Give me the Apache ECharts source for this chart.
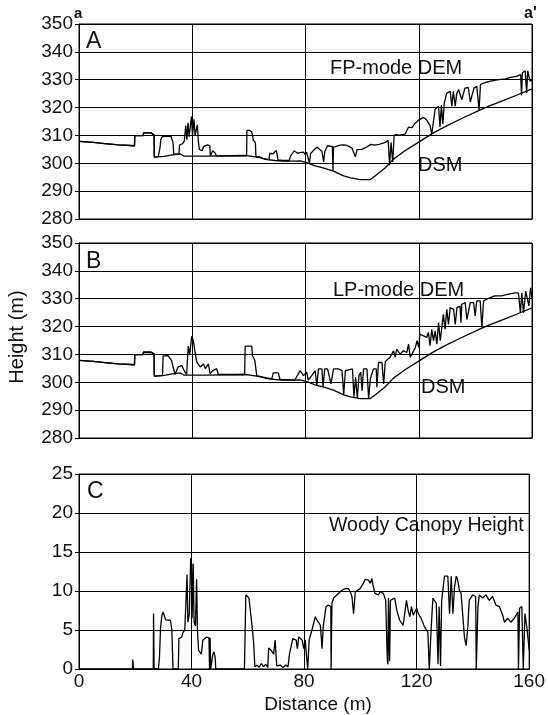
<!DOCTYPE html>
<html><head><meta charset="utf-8">
<script src="https://cdn.jsdelivr.net/npm/echarts@6/dist/echarts.min.js"></script>
<style>html,body{margin:0;padding:0;background:#fff}#c{width:548px;height:715px}</style>
</head><body><div id="c"></div><script>
const distanceTicks = [0, 40, 80, 120, 160];
const heightTicks = [280, 290, 300, 310, 320, 330, 340, 350];
const canopyTicks = [0, 5, 10, 15, 20, 25];

// lower (ground) line, shared by panels A and B: [distance m, height m]
const ground = [[0,307.9],[5,307.5],[10,307.0],[14,306.6],[19.6,306.3],[19.7,309.9],[22.7,309.9],[22.8,310.9],[25.4,310.9],[25.9,310.3],[26.5,310.2],[26.6,302.2],[30,302.5],[33,303.0],[35.7,303.4],[37,302.6],[45,302.6],[58.8,302.8],[61,302.5],[63.9,302.0],[66,301.4],[69.2,301.0],[72,300.8],[76.3,300.8],[78,300.9],[80.5,300.2],[83.4,299.1],[86.5,298.3],[89.9,297.2],[93.5,295.5],[96,294.8],[99.3,294.1],[102.8,294.1],[105,295.8],[108,298.2],[111.1,301.5],[115,304.4],[120,307.6],[125.2,310.9],[130,313.5],[135,316.0],[141.7,319.2],[145,320.6],[150,322.6],[155,324.6],[160,326.7]];

// upper line, panel A (FP mode)
const fpSurface = [[0,307.9],[5,307.5],[10,307.0],[14,306.6],[19.6,306.3],[19.7,309.9],[22.7,309.9],[22.8,310.9],[25.4,310.9],[25.9,310.3],[26.5,310.2],[26.6,302.2],[28.0,302.4],[28.6,305.5],[28.9,308.5],[29.3,309.5],[31,309.8],[32.5,309.6],[33.2,307.5],[33.5,303.2],[35.3,303.4],[35.5,306.5],[36.5,307],[37.2,308],[37.7,313.5],[38.1,308.5],[38.5,314.5],[38.9,309.5],[39.7,316.8],[40.1,310],[40.6,315.8],[41,310],[41.8,313.8],[42.1,308.5],[42.5,305],[43.5,304.5],[44,306],[45.3,306.6],[46.2,306.3],[46.4,302.6],[47.2,304.5],[47.6,304.2],[48,303.8],[48.6,302.6],[59.2,302.8],[59.3,311.8],[60.2,311.8],[61,311.3],[61.6,308.2],[62.3,307.4],[62.5,302.3],[63.5,302.4],[65,301.8],[67.1,301.3],[67.4,303.6],[68.5,303.4],[69.7,304.6],[70.1,304.3],[70.3,301.2],[72,301],[74.2,301],[74.8,302.7],[76,304.5],[77.2,303.6],[78.1,303.8],[79.3,304.0],[79.9,303.2],[80.4,304.0],[81.0,301.5],[81.4,300.2],[81.8,303.5],[82.8,304.6],[84,305.8],[85,305],[85.8,304.2],[86.4,300.5],[86.8,304.2],[87.8,306.3],[89.5,306.0],[89.7,297.4],[89.9,305.8],[90.5,306.2],[92.3,306.5],[93.5,306.6],[94.6,306.4],[96.4,305.5],[97.0,305],[97.6,302.3],[98.2,304.9],[99.9,305],[101.1,305.6],[101.7,306.0],[103.1,306.8],[104.3,306.5],[106,306.8],[108.2,307.5],[109.2,308.2],[109.7,299.3],[110.2,307.5],[110.8,300.5],[111.3,310],[112.2,310.4],[113.1,310],[114,310.3],[115.2,310.5],[116.4,313],[117.6,312.8],[118.8,314.5],[120,315.5],[121.6,316.5],[122.8,315.5],[124,313.5],[124.6,310.5],[125.2,311],[125.8,319.5],[127,320.5],[127.5,313],[128,320.8],[128.5,314],[129,321.5],[129.9,325.2],[131.1,325.8],[131.7,320.5],[132.2,325.8],[132.9,320.5],[133.4,325],[134.1,326.5],[135.2,322.8],[136.3,327],[137.5,327.2],[138.2,322],[138.7,321.4],[139.5,327],[140.5,327.6],[141.3,319],[141.8,328.3],[143.5,329],[145.8,329.6],[148.2,330],[150.6,330.3],[152.5,330.8],[154.5,331.2],[156,331.8],[156.3,324.3],[156.6,332.5],[157.6,333.2],[158.1,325.2],[158.5,333.2],[159.3,329.5],[160,329.8]];

// upper line, panel B (LP mode)
const lpSurface = [[0,307.9],[5,307.5],[10,307.0],[14,306.6],[19.6,306.3],[19.7,309.9],[22.5,309.9],[22.7,310.7],[25.2,310.7],[25.8,310.2],[26.5,310.2],[26.6,302.2],[29.5,302.4],[29.7,309.5],[31.5,309.6],[32.7,307.8],[33.9,302.8],[35,305.5],[36.3,306],[37.4,303.7],[38,302.8],[38.6,313],[39.1,310],[39.8,316.5],[40.4,314.8],[41,310.7],[41.6,307.2],[42.2,307.6],[42.8,305.5],[44,306.6],[44.6,304.9],[45.7,306.6],[46.3,303.1],[47.4,304.3],[48.6,304.9],[49.2,302.8],[58.5,302.8],[58.7,313],[61,313],[61.3,309.5],[62.1,307.8],[62.8,302.3],[68.1,301.2],[68.6,303.4],[70.4,303.4],[71,301],[76.3,300.9],[77.5,303.1],[78.1,304.2],[79.3,302.4],[80.4,303.6],[81,300.8],[82.2,302.4],[83.4,304.2],[84,299],[84.6,304.8],[85.8,304.8],[86.2,298.4],[86.8,304.8],[87.8,304.8],[89.0,299.4],[89.9,304.8],[91.7,304.8],[92.9,304.2],[93.5,295.6],[94.1,304.2],[96.6,304.8],[97.1,294.8],[97.7,301.8],[98.3,294.3],[98.9,302.4],[99.5,303.6],[100,297],[100.5,304.8],[101.7,304.8],[102.3,294.3],[102.9,301.2],[104,304.8],[105,304.8],[105.2,298.2],[105.8,307.1],[107,307.1],[107.6,299.4],[108.2,307.5],[109.9,309],[111.1,311.3],[111.7,309],[112.2,311.9],[113.4,310.1],[114.6,311.3],[115.8,310.7],[116.4,313.7],[117,309],[118.8,312.5],[119.4,314.9],[120,312.5],[120.4,317.3],[121.6,316.7],[122.8,316.1],[123.4,317.9],[124,313.1],[124.6,319],[125.2,314.9],[125.8,318.5],[126.4,313.7],[127,321.4],[127.6,314.9],[128.7,324.4],[129.3,319],[129.9,326.2],[130.5,320.8],[131.1,326.8],[132.3,326.2],[132.9,320.8],[133.5,326.8],[134.6,327.4],[134.9,321.4],[135.2,328],[136.4,328.6],[137,322.6],[138.2,328.6],[139.4,328.6],[139.9,323.8],[140.5,329.2],[141.7,329.2],[142.3,319.6],[142.9,329.2],[144.1,329.8],[145.3,330.4],[146.8,331],[149.2,331],[151,331.5],[154,332.1],[155.2,332.1],[155.9,325],[156.4,332.1],[157,325],[157.8,332.7],[158.9,327.4],[159.5,333.9],[160,330.4]];

// panel C woody canopy height
const canopyHeight = [[0,0],[19.0,0],[19.1,1.2],[19.3,1.2],[19.4,0],[26.4,0],[26.5,7.1],[26.7,0],[28.2,0],[28.6,1.5],[29.0,5.4],[29.5,6.9],[29.9,7.3],[30.8,6.3],[32.5,6.25],[33.0,5.0],[33.3,5.0],[33.4,0],[35.3,0],[35.5,3.9],[36.5,4.1],[37.0,4.7],[37.6,5],[38.1,5.2],[38.4,12.1],[38.7,6],[39.2,7],[39.7,14.2],[40.0,13.6],[40.2,6.5],[40.6,13.5],[40.9,6],[41.4,5.5],[41.8,11.5],[42.1,5.0],[42.5,2.4],[43.5,1.9],[44.0,3.7],[45.3,4.1],[46.2,4.0],[46.4,0],[46.6,4],[46.8,0],[47.6,1.9],[48.0,2.2],[48.4,1.5],[48.6,0],[58.8,0],[59.3,9.5],[59.9,9.5],[60.4,9.1],[61.1,8.9],[61.6,5.2],[62.1,3.2],[62.5,0.3],[63.3,0.5],[64,0.2],[64.8,0.7],[65.6,0.3],[66.4,0.6],[67.1,0.2],[67.4,2.7],[68.3,2.4],[69.2,1.9],[69.7,3.7],[70.1,3.5],[70.3,0.4],[71.5,0.5],[72.5,0.2],[73.5,0.5],[74.3,0.3],[74.8,1.9],[76,3.9],[77.2,3.7],[77.6,2.6],[78.1,4.1],[79.3,3.7],[79.9,2.6],[80.4,3.7],[81.0,1.1],[81.3,0],[81.5,0],[81.8,3.7],[82.8,5],[84,6.7],[84.6,6.25],[85.8,5.6],[86.4,2.6],[86.8,5.4],[87.8,8],[88.7,8.2],[89.5,8],[89.6,0],[89.8,0],[89.9,8.4],[90.5,9.1],[92.3,9.7],[93.5,10.1],[94.6,10.3],[95.8,10.3],[96.4,9.9],[97,9.3],[97.6,7.1],[98.2,9.9],[99.9,10.3],[101.1,11],[101.7,11.5],[102.9,11.4],[103.5,11],[104.1,11.6],[104.6,10.6],[105.2,9.7],[106.4,9.5],[107,9.9],[108.2,9.7],[109,8.8],[109.6,1.1],[109.8,0.6],[110.0,9.1],[110.4,1.0],[110.7,8.8],[112.2,9.1],[113.1,7.3],[114,6.25],[115.2,5.6],[115.8,5.8],[116.4,8.8],[117,7.5],[117.6,6.7],[118.2,8],[118.8,6.9],[120,7.8],[120.6,7.1],[121.6,6.5],[122.8,5.4],[124,4.7],[124.5,0],[124.9,0],[125.2,5.4],[125.8,9.1],[126.4,9.3],[127,8.4],[127.6,0.6],[128,8],[128.5,0.4],[128.9,8.8],[129.9,11.9],[131.1,11.9],[131.7,7.1],[132.3,11.9],[132.7,11.9],[132.9,7.1],[133.5,10.6],[134.1,11.9],[134.6,11.4],[135.2,10.1],[135.8,9.7],[137,4.1],[137.6,3],[138.2,5.4],[138.7,8.8],[139.9,9.5],[141.0,9.3],[141.2,0],[141.4,0],[141.8,8],[142.3,9.5],[143.5,9.1],[144.6,9.5],[145.8,8.8],[147,9.3],[148.2,8.2],[149.4,8],[150.6,6.9],[151.2,6],[151.8,6.25],[152.4,6.5],[153.5,6],[154.7,6.5],[156,7.3],[156.2,0],[156.4,0],[156.6,7.8],[157.4,8],[157.9,0],[158.2,0],[158.5,7.1],[159.3,5],[160,2.4]];

const FONT = '"Liberation Sans", Arial, sans-serif';
const INK = '#111';

function xAxis(gi, showLabels) {
  return {
    type: 'value', gridIndex: gi,
    min: distanceTicks[0], max: distanceTicks[distanceTicks.length - 1],
    interval: distanceTicks[1] - distanceTicks[0],
    axisLine: { show: true, lineStyle: { color: '#000', width: 1 } },
    axisTick: { show: false },
    axisLabel: { show: showLabels, color: INK, fontFamily: FONT, fontSize: 19, margin: 3 },
    splitLine: { show: true, lineStyle: { color: '#000', width: 1 } }
  };
}
function yAxis(gi, ticks) {
  return {
    type: 'value', gridIndex: gi,
    min: ticks[0], max: ticks[ticks.length - 1],
    interval: ticks[1] - ticks[0],
    axisLine: { show: true, lineStyle: { color: '#000', width: 1 } },
    axisTick: { show: true, length: 4, lineStyle: { color: '#000' } },
    axisLabel: { color: INK, fontFamily: FONT, fontSize: 19, margin: 6 },
    splitLine: { show: true, lineStyle: { color: '#000', width: 1 } }
  };
}
function lineSeries(data, xi) {
  return {
    type: 'line', data: data, xAxisIndex: xi, yAxisIndex: xi,
    showSymbol: false, symbol: 'none', sampling: 'none', animation: false,
    lineStyle: { color: '#000', width: 1.3 }, z: 3
  };
}
function label(text, x, y, size) {
  return {
    type: 'text', x: x, y: y,
    style: { text: text, fill: INK, font: size + 'px ' + FONT, textVerticalAlign: 'middle' }
  };
}

const chart = echarts.init(document.getElementById('c'), null, { renderer: 'canvas' });
chart.setOption({
  animation: false,
  backgroundColor: '#fff',
  grid: [
    { left: 79, top: 24, width: 453, height: 195, show: true, borderColor: '#000', borderWidth: 1 },
    { left: 79, top: 243, width: 453, height: 195, show: true, borderColor: '#000', borderWidth: 1 },
    { left: 79, top: 474, width: 453, height: 195, show: true, borderColor: '#000', borderWidth: 1 }
  ],
  xAxis: [xAxis(0, false), xAxis(1, false), xAxis(2, true)],
  yAxis: [yAxis(0, heightTicks), yAxis(1, heightTicks), yAxis(2, canopyTicks)],
  series: [
    lineSeries(ground, 0), lineSeries(fpSurface, 0),
    lineSeries(ground, 1), lineSeries(lpSurface, 1),
    lineSeries(canopyHeight, 2)
  ],
  graphic: [
    { type: 'text', x: 74, y: 6, style: { text: 'a', fill: INK, font: 'bold 15px ' + FONT } },
    { type: 'text', x: 524, y: 6, style: { text: "a'", fill: INK, font: 'bold 16px ' + FONT } },
    label('A', 86, 42, 23),
    label('B', 86, 262, 23),
    label('C', 87, 492, 23),
    label('FP-mode DEM', 330, 68, 20),
    label('DSM', 418, 165, 20),
    label('LP-mode DEM', 333, 290, 20),
    label('DSM', 421, 387, 20),
    label('Woody Canopy Height', 329, 526, 19.5),
    { type: 'text', x: 318, y: 705,
      style: { text: 'Distance (m)', fill: INK, font: '19px ' + FONT, textAlign: 'center', textVerticalAlign: 'middle' } },
    { type: 'text', x: 17, y: 337, rotation: Math.PI / 2,
      style: { text: 'Height (m)', fill: INK, font: '20px ' + FONT, textAlign: 'center', textVerticalAlign: 'middle' } }
  ]
});
</script></body></html>
